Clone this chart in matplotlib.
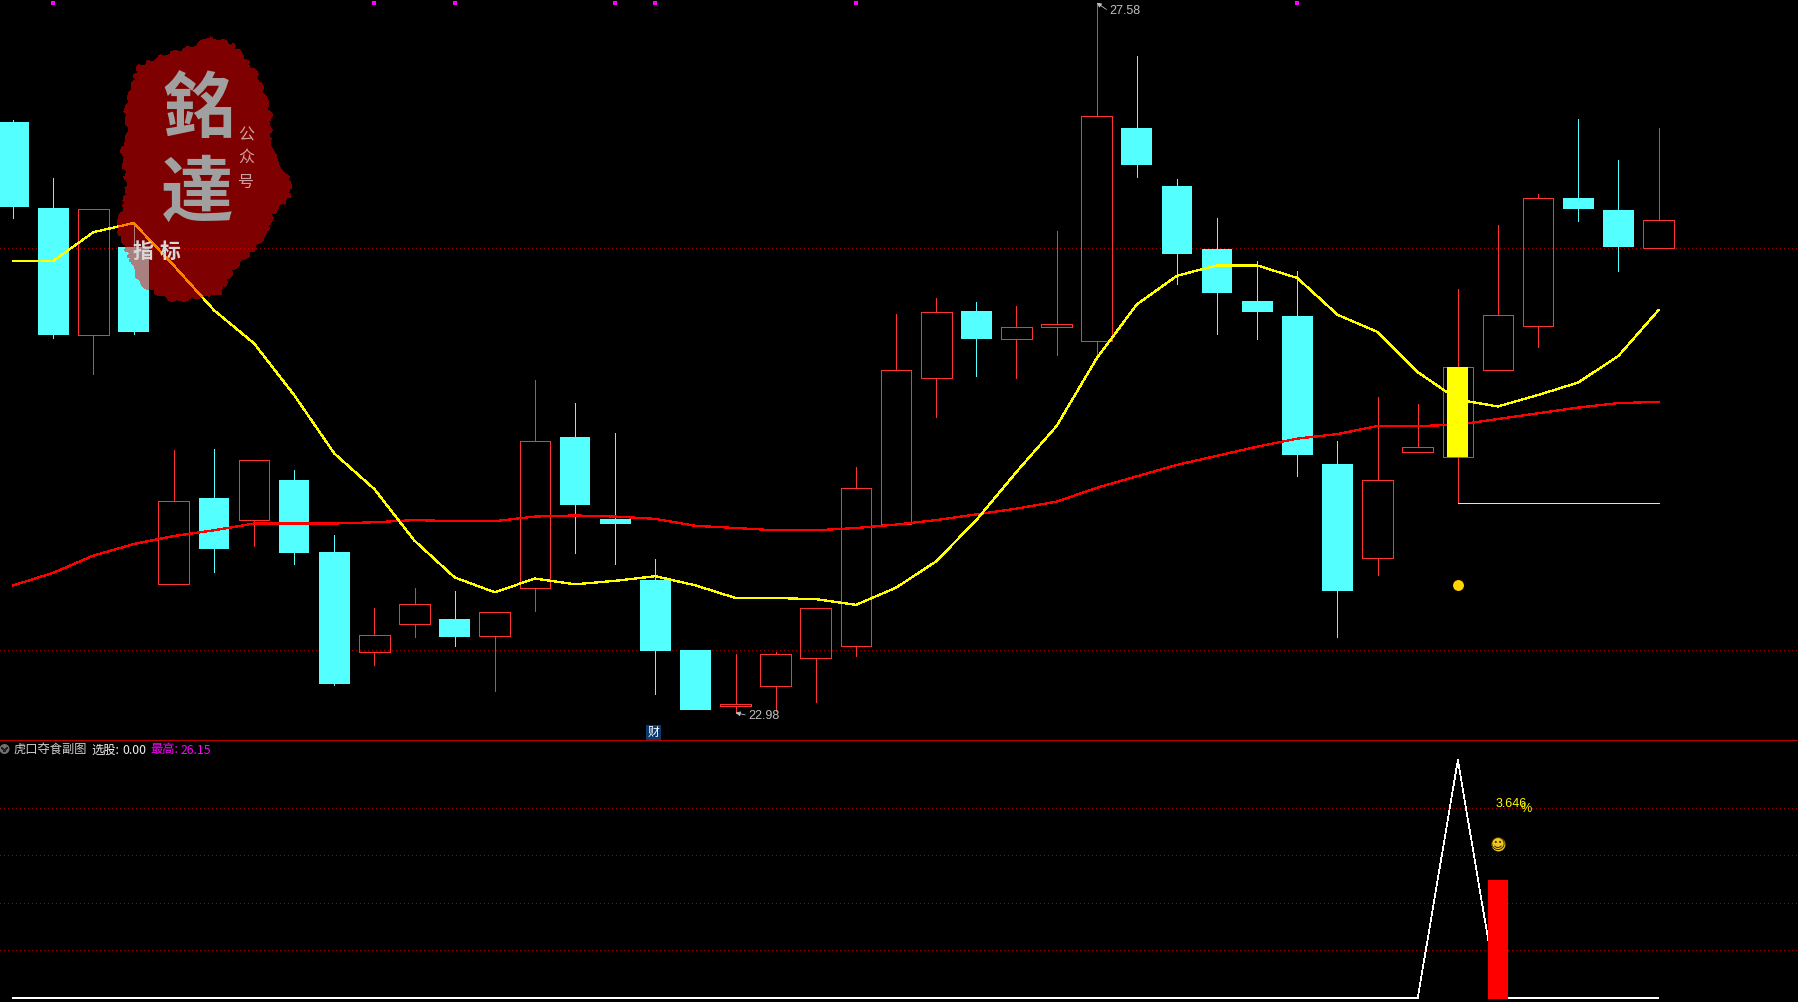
import matplotlib
matplotlib.use("Agg")
import matplotlib.pyplot as plt
from matplotlib.patches import Polygon, Circle
from matplotlib.transforms import Affine2D
import numpy as np

W, H = 1798, 1002
CJK = ['Noto Sans CJK SC', 'DejaVu Sans']
plt.rcParams['font.family'] = CJK
plt.rcParams['lines.antialiased'] = False
plt.rcParams['patch.antialiased'] = False

open_ = [26.808,26.253,25.432,26.002,23.826,24.381,24.240,24.499,24.033,23.389,23.567,23.604,23.493,23.804,
         24.773,24.248,23.856,23.404,23.042,23.167,23.352,23.426,24.218,25.158,25.587,25.410,25.484,25.395,
         26.771,26.394,25.987,25.654,25.558,24.603,23.996,24.677,24.647,25.210,25.491,26.320,26.238,25.994]
high = [26.823,26.446,26.246,26.157,24.692,24.699,24.625,24.566,24.144,23.671,23.804,23.782,23.648,25.143,
        24.995,24.803,23.989,23.404,23.375,23.389,23.671,24.581,25.572,25.676,25.646,25.624,26.105,27.578,
        27.237,26.438,26.187,25.913,25.846,24.751,25.032,24.988,25.728,26.142,26.342,26.830,26.564,26.771]
low = [26.187,25.417,25.180,25.439,23.826,23.907,24.070,23.959,23.175,23.308,23.486,23.426,23.138,23.656,
       24.026,23.959,23.116,23.012,22.997,23.005,23.064,23.360,24.218,24.906,25.173,25.158,25.306,25.306,
       26.453,25.765,25.439,25.410,24.522,23.486,23.885,24.677,24.351,25.210,25.358,26.172,25.846,25.994]
close = [26.261,25.432,26.246,25.454,24.366,24.055,24.625,24.026,23.182,23.500,23.700,23.486,23.648,24.751,
         24.337,24.218,23.397,23.012,23.056,23.375,23.671,24.448,25.210,25.580,25.410,25.484,25.506,26.845,
         26.534,25.957,25.706,25.580,24.662,23.782,24.499,24.714,25.225,25.565,26.320,26.246,26.002,26.179]
ma_yellow = [25.913,25.913,26.098,26.157,25.883,25.595,25.380,25.047,24.670,24.440,24.107,23.870,23.774,23.863,
             23.826,23.848,23.878,23.819,23.737,23.737,23.730,23.693,23.804,23.974,24.240,24.551,24.847,25.284,
             25.632,25.817,25.883,25.883,25.802,25.565,25.454,25.195,25.017,24.973,25.047,25.128,25.299,25.595]
ma_red = [23.819,23.900,24.011,24.085,24.137,24.174,24.218,24.218,24.218,24.226,24.240,24.233,24.233,24.263,
          24.270,24.263,24.248,24.203,24.189,24.174,24.174,24.189,24.211,24.240,24.277,24.314,24.359,24.448,
          24.522,24.596,24.655,24.714,24.766,24.795,24.847,24.847,24.855,24.892,24.929,24.966,24.995,25.003]
main_levels = [25.994, 23.404]
flag_idx = [1, 9, 11, 15, 16, 21, 32]
signal_idx = 36
signal_top, signal_bottom = 25.225, 24.647
support_idx = [36, 41]
support_val = 24.351
dot_val = 23.819
high_label, low_label = "27.58", "22.98"

sub_line = [0]*36 + [100, 0] + [0]*4
sub_bar_idx, sub_bar_val = 37, 50
sub_levels = [20, 40, 60, 80]

CYAN, RED, YEL = '#54ffff', '#ff3232', '#ffff00'
px = Affine2D().scale(1, -1).translate(0, H)

fig = plt.figure(figsize=(W/100, H/100), dpi=100, facecolor='black')
SPLIT = 740
ax = fig.add_axes([0, (H-SPLIT)/H, 1, SPLIT/H], facecolor='black')
ax2 = fig.add_axes([0, 0, 1, (H-SPLIT)/H], facecolor='black')
xlim = (-0.33, 44.476)
ax.set_xlim(*xlim); ax2.set_xlim(*xlim)
ax.set_ylim(22.821, 27.596)
ax2.set_ylim(-1.68, 108.4)
ax.set_axis_off()
for s in ('left', 'right', 'bottom'):
    ax2.spines[s].set_visible(False)
ax2.spines['top'].set_color('#c00000')
ax2.spines['top'].set_linewidth(0.5)
ax2.set_xticks([]); ax2.set_yticks([])

dots = (0, (1, 3))
for v in main_levels:
    ax.axhline(v, color='#a00000', lw=0.72, ls=dots, zorder=1)
for v in sub_levels:
    ax2.axhline(v, color='#a00000', lw=0.72, ls=dots, zorder=1)

BW = 0.765
LW = 0.4
for i, (o, h, l, c) in enumerate(zip(open_, high, low, close)):
    top, bot = max(o, c), min(o, c)
    col = RED if c > o else CYAN
    ax.vlines(i, top, h, color=col, lw=LW, zorder=2)
    ax.vlines(i, l, bot, color=col, lw=LW, zorder=2)
    if c > o:
        ax.bar(i, top-bot, BW, bottom=bot, facecolor='none', edgecolor=RED, linewidth=LW, zorder=2)
    else:
        ax.bar(i, top-bot, BW, bottom=bot, facecolor=CYAN, edgecolor='none', zorder=2)

x = np.arange(len(close))
ax.plot(x, ma_red, color='#ff0000', lw=0.9, zorder=3)
ax.plot(x, ma_yellow, color=YEL, lw=0.9, zorder=3)
ax.bar(signal_idx, signal_top-signal_bottom, 0.523, bottom=signal_bottom, color=YEL, edgecolor='none', zorder=4)
ax.plot(support_idx, [support_val]*2, color=YEL, lw=LW, zorder=3)
ax.scatter([signal_idx], [dot_val], s=62, color='#ffd400', linewidths=0, zorder=4, antialiased=True)
ax.scatter(flag_idx, [27.578]*len(flag_idx), s=6, marker='s', color='#ff00ff', linewidths=0, zorder=4)

arrow = dict(arrowstyle='-|>,head_length=0.3,head_width=0.15', lw=0.6, color='#c0c0c0',
             shrinkA=0, shrinkB=0, relpos=(0, 0.5), antialiased=True)
lab = dict(color='#c0c0c0', fontsize=9, family='Liberation Sans', va='center', ha='left')
ax.annotate(high_label, xy=(27, 27.578), xytext=(9, -6.2), textcoords='offset points', arrowprops=arrow, **lab)
ax.annotate(low_label, xy=(18, 22.997), xytext=(9, -2), textcoords='offset points', arrowprops=arrow, **lab)
ax.text(15.96, 22.868, "财", color='white', fontsize=8.6, ha='center', va='center', zorder=6,
        bbox=dict(facecolor='#0a3a6e', edgecolor='none', pad=1.0))

# seal
outline = np.array([(630,110),(660,120),(700,135),(730,170),(770,220),(795,290),(815,350),(810,420),(830,480),
                    (870,540),(870,590),(820,640),(800,700),(760,750),(700,810),(660,880),(600,890),(525,905),
                    (470,880),(420,850),(395,790),(350,680),(370,620),(380,560),(365,450),(385,400),(375,330),
                    (390,270),(415,200),(480,170),(560,145),(600,130)]) / 3
seal = Polygon(outline, closed=True, facecolor='#ff0000', alpha=0.5, edgecolor='none',
               transform=px, zorder=5, clip_on=False)
seal.set_sketch_params(scale=1.5, length=25, randomness=8)
ax.add_patch(seal)
def ptext(s, xp, yp, size, color, **kw):
    ax.text(xp, yp, s, transform=px, fontsize=size, color=color, ha='center', va='center',
            family=CJK, zorder=6, clip_on=False, **kw)
ptext("銘", 198, 111, 52, '#a0a0a0', fontweight='bold')
ptext("達", 197, 195, 52, '#a0a0a0', fontweight='bold')
ptext("公", 246, 135, 11.5, '#d0a0a0')
ptext("众", 246, 157, 11.5, '#d0a0a0')
ptext("号", 246, 182, 11.5, '#d0a0a0')
ptext("指", 143, 251, 15, '#d8d8d8', fontweight='bold')
ptext("标", 170, 251, 15, '#d8d8d8', fontweight='bold')

# sub panel
ax2.plot(x, sub_line, color='white', lw=0.5, zorder=2)
ax2.bar(sub_bar_idx, sub_bar_val, 0.523, bottom=-0.4, color='#ff0000', edgecolor='none', zorder=3)
ax2.scatter([37], [64.7], s=100, color='#f0c81e', linewidths=0, zorder=4, antialiased=True)
ax2.text(37, 64.7, "☺", color='#3a2a00', fontsize=11, family='DejaVu Sans', ha='center', va='center', zorder=5)
ax2.text(36.94, 81.5, "3.646", color=YEL, fontsize=9, family='Liberation Sans', ha='left', va='center', zorder=5)
ax2.text(37.55, 79.5, "%", color=YEL, fontsize=9, family='Liberation Sans', ha='left', va='center', zorder=5)

# header
ax2.add_patch(Circle((4.5, 749), 5, facecolor='#707070', edgecolor='none', transform=px, clip_on=False, zorder=5, antialiased=True))
ax2.plot([2, 4.5, 7], [748, 751, 748], color='#202020', lw=0.7, transform=px, clip_on=False, zorder=6)
def head(s, xp, color):
    ax2.text(xp, 750, s, transform=px, fontsize=8.8, color=color, ha='left', va='center', family=CJK, zorder=6)
head("虎口夺食副图", 14, '#d0d0d0')
head("选股:", 91, '#f0f0f0')
head("0.00", 122, '#f0f0f0')
head("最高:", 150, '#ff00ff')
head("26.15", 181, '#ff00ff')

fig.savefig('out.png', dpi=100, facecolor='black')
